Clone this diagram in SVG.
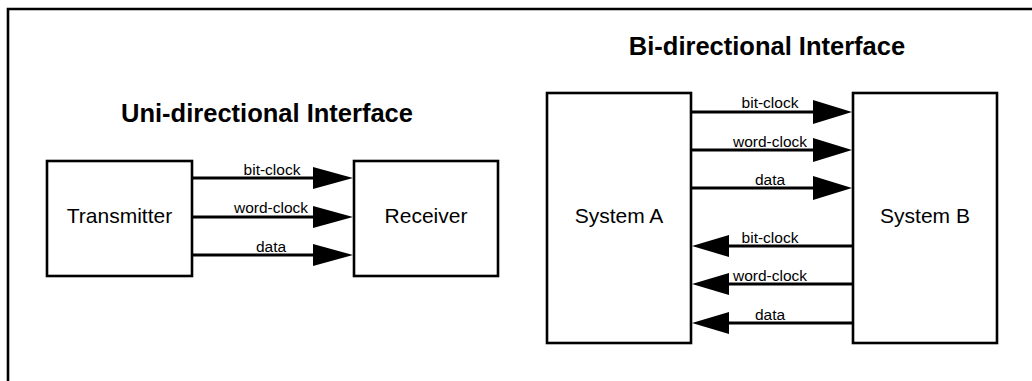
<svg xmlns="http://www.w3.org/2000/svg" width="1032" height="381" viewBox="0 0 1032 381">
<style>
.box{fill:#fff;stroke:#000;stroke-width:2.6}
.ln{stroke:#000;stroke-width:3;fill:none}
.ah{fill:#000;stroke:none}
.title{font-family:"Liberation Sans",Arial,sans-serif;font-weight:bold;font-size:25.5px;text-anchor:middle;fill:#000}
.lbl{font-family:"Liberation Sans",Arial,sans-serif;font-size:21px;text-anchor:middle;fill:#000}
.el{font-family:"Liberation Sans",Arial,sans-serif;font-size:15.5px;text-anchor:middle;fill:#000}
</style>
<rect width="1032" height="381" fill="#fff"/>
<path d="M8,381 V9 H1032" fill="none" stroke="#000" stroke-width="2.6"/>
<text class="title" x="267" y="122">Uni-directional Interface</text>
<text class="title" x="767" y="55">Bi-directional Interface</text>
<g id="transmitter"><rect class="box" x="47" y="161" width="145" height="115"/><text class="lbl" x="119.5" y="223">Transmitter</text></g>
<g id="receiver"><rect class="box" x="354" y="161" width="144" height="115"/><text class="lbl" x="426" y="223">Receiver</text></g>
<g id="systemA"><rect class="box" x="547" y="93" width="144" height="250"/><text class="lbl" x="619" y="223">System A</text></g>
<g id="systemB"><rect class="box" x="853" y="93" width="144" height="250"/><text class="lbl" x="925" y="223">System B</text></g>
<g id="connectors">
<line class="ln" x1="192" y1="178" x2="315" y2="178"/><polygon class="ah" points="313,167 353,178 313,189"/>
<line class="ln" x1="192" y1="217" x2="315" y2="217"/><polygon class="ah" points="313,206 353,217 313,228"/>
<line class="ln" x1="192" y1="255" x2="315" y2="255"/><polygon class="ah" points="313,244 353,255 313,266"/>
<text class="el" x="272" y="175">bit-clock</text>
<text class="el" x="271" y="213">word-clock</text>
<text class="el" x="271" y="252">data</text>
<line class="ln" x1="691" y1="112" x2="815" y2="112"/><polygon class="ah" points="813,100 852,112 813,124"/>
<line class="ln" x1="691" y1="150" x2="815" y2="150"/><polygon class="ah" points="813,138 852,150 813,162"/>
<line class="ln" x1="691" y1="188" x2="815" y2="188"/><polygon class="ah" points="813,176 852,188 813,200"/>
<text class="el" x="770" y="108">bit-clock</text>
<text class="el" x="770" y="147">word-clock</text>
<text class="el" x="770" y="185">data</text>
<line class="ln" x1="853" y1="246" x2="727" y2="246"/><polygon class="ah" points="729,235 692,246 729,257"/>
<line class="ln" x1="853" y1="284" x2="727" y2="284"/><polygon class="ah" points="729,273 692,284 729,295"/>
<line class="ln" x1="853" y1="323" x2="727" y2="323"/><polygon class="ah" points="729,312 692,323 729,334"/>
<text class="el" x="770" y="243">bit-clock</text>
<text class="el" x="770" y="281">word-clock</text>
<text class="el" x="770" y="320">data</text>
</g>
</svg>
